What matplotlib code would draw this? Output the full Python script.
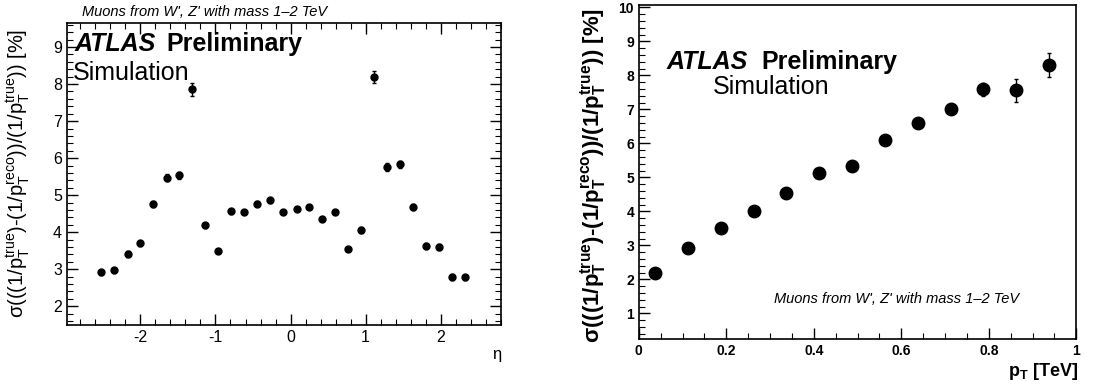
import numpy as np
import matplotlib
matplotlib.use("Agg")
import matplotlib.pyplot as plt
from matplotlib.ticker import MultipleLocator

plt.rcParams['font.family'] = ['Liberation Sans', 'DejaVu Sans']
plt.rcParams['mathtext.fontset'] = 'custom'
plt.rcParams['mathtext.rm'] = 'Liberation Sans'
plt.rcParams['mathtext.it'] = 'Liberation Sans:italic'
plt.rcParams['mathtext.bf'] = 'Liberation Sans:bold'
plt.rcParams['axes.unicode_minus'] = False

# resolution vs eta
eta = [-2.52, -2.35, -2.17, -2.00, -1.83, -1.65, -1.48, -1.31, -1.14, -0.96,
       -0.79, -0.62, -0.45, -0.27, -0.10, 0.08, 0.25, 0.42, 0.59, 0.77,
       0.94, 1.11, 1.29, 1.46, 1.63, 1.80, 1.98, 2.15, 2.32]
res_eta = [2.92, 2.97, 3.41, 3.70, 4.77, 5.47, 5.54, 7.86, 4.19, 3.50,
           4.56, 4.55, 4.77, 4.86, 4.55, 4.62, 4.68, 4.36, 4.54, 3.55,
           4.06, 8.19, 5.76, 5.83, 4.69, 3.63, 3.60, 2.79, 2.78]
err_eta = [0.07, 0.07, 0.07, 0.07, 0.08, 0.09, 0.09, 0.17, 0.07, 0.06,
           0.06, 0.06, 0.06, 0.06, 0.06, 0.06, 0.06, 0.06, 0.06, 0.06,
           0.07, 0.17, 0.1, 0.1, 0.08, 0.07, 0.08, 0.07, 0.07]

# resolution vs pT
pt = [0.0375, 0.1125, 0.1875, 0.2625, 0.3375, 0.4125, 0.4875, 0.5625,
      0.6375, 0.7125, 0.7875, 0.8625, 0.9375]
res_pt = [2.19, 2.91, 3.50, 4.01, 4.53, 5.12, 5.33, 6.09, 6.59, 7.02,
          7.59, 7.56, 8.30]
err_pt = [0.04, 0.04, 0.04, 0.04, 0.05, 0.05, 0.06, 0.07, 0.08, 0.1,
          0.2, 0.33, 0.35]

sample_txt = "Muons from W', Z' with mass 1\u20132 TeV"

fig = plt.figure(figsize=(11.13, 3.89), dpi=100)

# ---- left panel ----
ax1 = fig.add_axes([0.060, 0.165, 0.390, 0.776])
ax1.errorbar(eta, res_eta, yerr=err_eta, fmt='o', color='black', ms=5,
             elinewidth=1.0, capsize=1.5, capthick=1.0)
ax1.set_xlim(-2.98, 2.8)
ax1.set_ylim(1.5, 9.65)
ax1.xaxis.set_major_locator(MultipleLocator(1))
ax1.xaxis.set_minor_locator(MultipleLocator(0.2))
ax1.yaxis.set_major_locator(MultipleLocator(1))
ax1.yaxis.set_minor_locator(MultipleLocator(0.2))
ax1.tick_params(which='both', direction='in', top=True, right=True, labelsize=11.5)
ax1.tick_params(which='major', length=8, width=1.0)
ax1.tick_params(which='minor', length=4, width=0.8)
for s in ax1.spines.values():
    s.set_linewidth(1.2)
ax1.set_ylabel(r"σ(((1/$\mathrm{p}_\mathrm{T}^\mathrm{true}$)-(1/$\mathrm{p}_\mathrm{T}^\mathrm{reco}$))/(1/$\mathrm{p}_\mathrm{T}^\mathrm{true}$)) [%]",
               fontsize=14.5)
ax1.yaxis.set_label_coords(-0.083, 0.5)
ax1.set_xlabel("η", fontsize=12)
ax1.xaxis.set_label_coords(0.99, -0.075)
fig.text(0.074, 0.968, sample_txt, fontsize=10.5, style='italic', va='center')
ax1.text(0.018, 0.93, "ATLAS", transform=ax1.transAxes, fontsize=18,
         fontweight='bold', style='italic', va='center')
ax1.text(0.23, 0.93, "Preliminary", transform=ax1.transAxes, fontsize=18,
         fontweight='bold', va='center')
ax1.text(0.015, 0.835, "Simulation", transform=ax1.transAxes, fontsize=18,
         va='center')

# ---- right panel ----
ax2 = fig.add_axes([0.574, 0.129, 0.393, 0.858])
ax2.errorbar(pt, res_pt, yerr=err_pt, fmt='o', color='black', ms=9,
             elinewidth=1.0, capsize=1.5, capthick=1.0)
ax2.set_xlim(0, 1.0)
ax2.set_ylim(0.25, 10.07)
ax2.set_xticks([0, 0.2, 0.4, 0.6, 0.8, 1.0])
ax2.set_xticklabels(['0', '0.2', '0.4', '0.6', '0.8', '1'])
ax2.xaxis.set_minor_locator(MultipleLocator(0.05))
ax2.yaxis.set_major_locator(MultipleLocator(1))
ax2.yaxis.set_minor_locator(MultipleLocator(0.2))
ax2.tick_params(which='both', direction='in', top=False, right=False, labelsize=10)
ax2.tick_params(which='major', length=8, width=1.0)
ax2.tick_params(which='minor', length=4, width=0.8)
for lab in ax2.get_xticklabels() + ax2.get_yticklabels():
    lab.set_fontweight('bold')
for s in ax2.spines.values():
    s.set_linewidth(1.2)
ax2.set_ylabel(r"σ(((1/$\mathbf{p}_\mathbf{T}^\mathbf{true}$)-(1/$\mathbf{p}_\mathbf{T}^\mathbf{reco}$))/(1/$\mathbf{p}_\mathbf{T}^\mathbf{true}$)) [%]",
               fontsize=16, fontweight='bold')
ax2.yaxis.set_label_coords(-0.07, 0.49)
ax2.set_xlabel(r"$\mathbf{p}_\mathbf{T}$ [TeV]", fontsize=13, fontweight='bold',
               ha='right')
ax2.xaxis.set_label_coords(1.005, -0.065)
ax2.text(0.064, 0.829, "ATLAS", transform=ax2.transAxes, fontsize=18,
         fontweight='bold', style='italic', va='center')
ax2.text(0.281, 0.829, "Preliminary", transform=ax2.transAxes, fontsize=18,
         fontweight='bold', va='center')
ax2.text(0.169, 0.754, "Simulation", transform=ax2.transAxes, fontsize=18,
         va='center')
ax2.text(0.308, 0.118, sample_txt, transform=ax2.transAxes, fontsize=10.5,
         style='italic', va='center')

fig.savefig("out.png", dpi=100)
